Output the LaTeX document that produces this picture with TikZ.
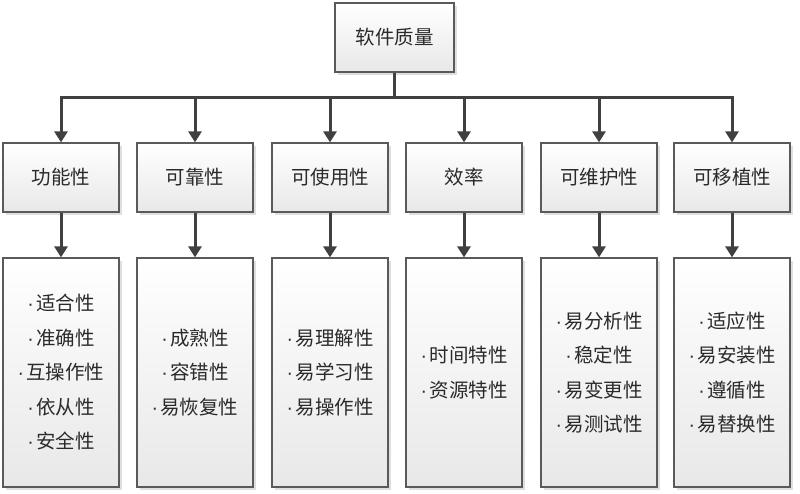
\documentclass[tikz,border=0pt]{standalone}
\usepackage{fontspec}
\usepackage{xcolor}
\usepackage{tikz}
\usetikzlibrary{arrows.meta, positioning, shadows, calc}
\newfontfamily\cjk{Noto Sans CJK SC}
\newfontfamily\latinsans{Liberation Sans}
\newcommand{\pt}{{\latinsans ·}\hspace{2.5pt}}
\definecolor{qualline}{HTML}{404040}
\definecolor{qualedge}{HTML}{5A5A5A}
\definecolor{qualtext}{HTML}{2A2A2A}
\tikzset{
  qualbox/.style={draw=qualedge, line width=1.2pt, top color=white, bottom color=black!9,
    drop shadow={shadow xshift=3pt, shadow yshift=-3pt, fill=black!25, opacity=0.5},
    text=qualtext, font=\cjk\fontsize{19.5}{34.5}\selectfont, align=center, inner sep=0pt},
  catbox/.style={qualbox, minimum width=116pt, minimum height=69pt},
  itembox/.style={qualbox, minimum width=116pt, minimum height=229pt},
  link/.style={draw=qualline, line width=3pt},
  arr/.style={link, -{Triangle[width=13pt,length=11pt]}}
}
\begin{document}
\begin{tikzpicture}[x=1pt, y=-1pt]
  \useasboundingbox (0,0) rectangle (800,494);
  % root
  \node[qualbox, minimum width=119pt, minimum height=69pt] (root) at (394.5,37.5) {软件质量};
  \coordinate (bus) at (394.5,98);
  % characteristics
  \node[catbox] (func) at (61,177.5)  {功能性};
  \node[catbox] (reli) at (195,177.5) {可靠性};
  \node[catbox] (usab) at (330,177.5) {可使用性};
  \node[catbox] (effi) at (464,177.5) {效率};
  \node[catbox] (main) at (599,177.5) {可维护性};
  \node[catbox] (port) at (732,177.5) {可移植性};
  % sub-characteristics
  \node[itembox] (funcsub) at (61,372.5)  {\pt 适合性\\\pt 准确性\\\pt 互操作性\\\pt 依从性\\\pt 安全性};
  \node[itembox] (relisub) at (195,372.5) {\pt 成熟性\\\pt 容错性\\\pt 易恢复性};
  \node[itembox] (usabsub) at (330,372.5) {\pt 易理解性\\\pt 易学习性\\\pt 易操作性};
  \node[itembox] (effisub) at (464,372.5) {\pt 时间特性\\\pt 资源特性};
  \node[itembox] (mainsub) at (599,372.5) {\pt 易分析性\\\pt 稳定性\\\pt 易变更性\\\pt 易测试性};
  \node[itembox] (portsub) at (732,372.5) {\pt 适应性\\\pt 易安装性\\\pt 遵循性\\\pt 易替换性};
  % tree lines
  \draw[link] (root.south) -- (bus);
  \draw[link, line cap=rect] (func.north |- bus) -- (port.north |- bus);
  \draw[arr] (func.north |- bus) -- (func.north);
  \draw[arr] (reli.north |- bus) -- (reli.north);
  \draw[arr] (usab.north |- bus) -- (usab.north);
  \draw[arr] (effi.north |- bus) -- (effi.north);
  \draw[arr] (main.north |- bus) -- (main.north);
  \draw[arr] (port.north |- bus) -- (port.north);
  \draw[arr] (func.south) -- (funcsub.north);
  \draw[arr] (reli.south) -- (relisub.north);
  \draw[arr] (usab.south) -- (usabsub.north);
  \draw[arr] (effi.south) -- (effisub.north);
  \draw[arr] (main.south) -- (mainsub.north);
  \draw[arr] (port.south) -- (portsub.north);
\end{tikzpicture}
\end{document}
